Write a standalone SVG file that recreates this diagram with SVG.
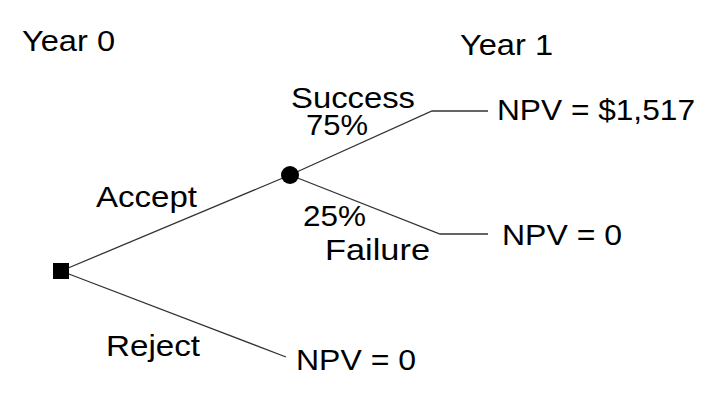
<svg xmlns="http://www.w3.org/2000/svg" width="724" height="400" viewBox="0 0 724 400">
<style>
text{font-family:"Liberation Sans",Arial,sans-serif;font-size:29px;fill:#000}
.ln{stroke:#333;stroke-width:1.3;fill:none}
</style>
<rect width="724" height="400" fill="#fff"/>
<g id="connectors">
<polyline class="ln" points="61,271 290,175"/>
<polyline class="ln" points="290,175 432,111 488,111"/>
<polyline class="ln" points="290,175 440,234 488,234"/>
<polyline class="ln" points="61,271 286,357"/>
</g>
<g id="labels">
<text x="22" y="51" textLength="93" lengthAdjust="spacingAndGlyphs">Year 0</text>
<text x="460" y="55" textLength="93" lengthAdjust="spacingAndGlyphs">Year 1</text>
<text x="96" y="207" textLength="101" lengthAdjust="spacingAndGlyphs">Accept</text>
<text x="106" y="356" textLength="94" lengthAdjust="spacingAndGlyphs">Reject</text>
<text x="291" y="108" textLength="124" lengthAdjust="spacingAndGlyphs">Success</text>
<text x="306" y="135" textLength="62" lengthAdjust="spacingAndGlyphs">75%</text>
<text x="303" y="226" textLength="63" lengthAdjust="spacingAndGlyphs">25%</text>
<text x="325" y="260" textLength="105" lengthAdjust="spacingAndGlyphs">Failure</text>
</g>
<g id="decision"><rect x="53" y="263" width="16" height="16" fill="#000"/></g>
<g id="chance"><circle cx="290" cy="175" r="9" fill="#000"/></g>
<g id="outcome-success"><text x="497" y="120" textLength="198" lengthAdjust="spacingAndGlyphs">NPV = $1,517</text></g>
<g id="outcome-failure"><text x="502" y="245" textLength="120" lengthAdjust="spacingAndGlyphs">NPV = 0</text></g>
<g id="outcome-reject"><text x="296" y="370" textLength="120" lengthAdjust="spacingAndGlyphs">NPV = 0</text></g>
</svg>
